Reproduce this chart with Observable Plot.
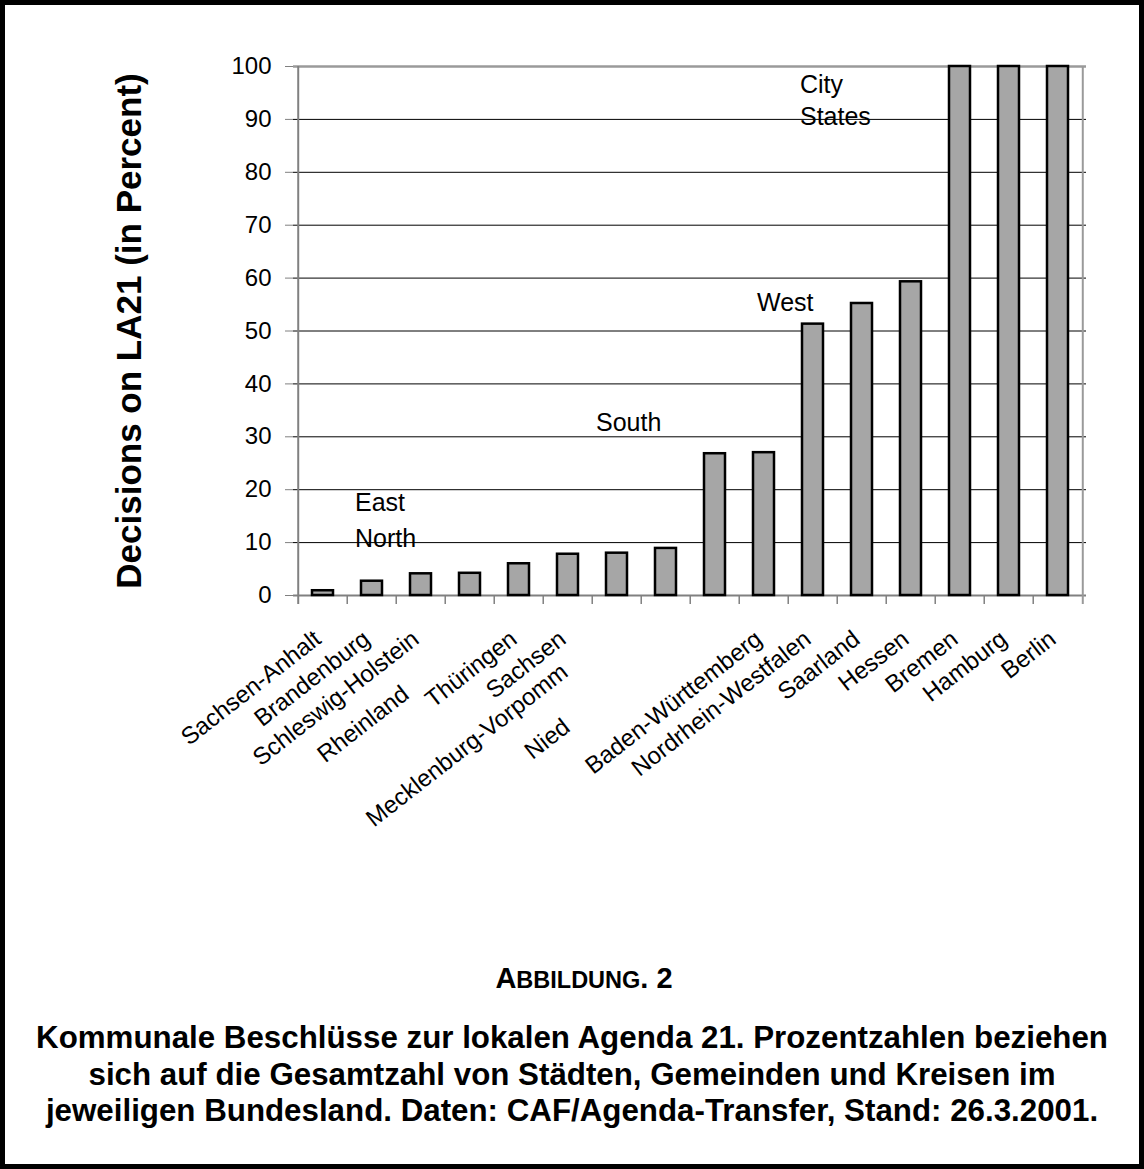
<!DOCTYPE html>
<html>
<head>
<meta charset="utf-8">
<script src="https://cdn.jsdelivr.net/npm/d3@7"></script>
<script src="https://cdn.jsdelivr.net/npm/@observablehq/plot@0.6"></script>
<style>
  html, body { margin: 0; padding: 0; background: #fff; }
  #wrap { position: relative; width: 1144px; height: 1169px; overflow: hidden; font-family: "Liberation Sans", Arial, sans-serif; color: #000; }
  #border { position: absolute; left: 0; top: 0; width: 1144px; height: 1169px; box-sizing: border-box; border: 5px solid #000; pointer-events: none; }
  #chart { position: absolute; left: 0; top: 0; }
  #fig { position: absolute; left: 24px; width: 1120px; top: 958px; text-align: center; font-weight: bold; line-height: 40px; }
  #fig .big { font-size: 29px; }
  #fig .sm { font-size: 23.5px; }
  #cap { position: absolute; left: 0; width: 1144px; top: 1020px; text-align: center; font-weight: bold; font-size: 31.3px; line-height: 36.5px; }
</style>
</head>
<body>
<div id="wrap">
  <div id="chart"></div>
  <div id="fig"><span class="big">A</span><span class="sm">BBILDUNG</span><span class="big">. 2</span></div>
  <div id="cap">Kommunale Beschlüsse zur lokalen Agenda 21. Prozentzahlen beziehen<br>sich auf die Gesamtzahl von Städten, Gemeinden und Kreisen im<br>jeweiligen Bundesland. Daten: CAF/Agenda-Transfer, Stand: 26.3.2001.</div>
  <div id="border"></div>
</div>
<script>
// ---- data ----
const categories = ["Sachsen-Anhalt", "Brandenburg", "Schleswig-Holstein", "Rheinland-Pfalz", "Thüringen", "Sachsen",
  "Mecklenburg-Vorpommern", "Niedersachsen", "Bayern", "Baden-Württemberg", "Nordrhein-Westfalen", "Saarland",
  "Hessen", "Bremen", "Hamburg", "Berlin"];
const values = [0.9, 2.7, 4.1, 4.2, 6.0, 7.8, 8.0, 8.9, 26.8, 27.0, 51.3, 55.2, 59.3, 100, 100, 100];
const tickLabels = ["Sachsen-Anhalt", "Brandenburg", "Schleswig-Holstein", "Rheinland", "Thüringen", "Sachsen",
  "Mecklenburg-Vorpomm", "Nied", "", "Baden-Württemberg", "Nordrhein-Westfalen", "Saarland",
  "Hessen", "Bremen", "Hamburg", "Berlin"];
const yTicks = [0, 10, 20, 30, 40, 50, 60, 70, 80, 90, 100];
const groupNames = ["East\nNorth", "South", "West", "City\nStates"];
const groupAt = ["Brandenburg", "Mecklenburg-Vorpommern", "Baden-Württemberg", "Nordrhein-Westfalen"];
const groupLevel = [20.9, 35.5, 58.2, 99.1];
const yTitle = "Decisions on LA21 (in Percent)";

// ---- layout ----
const W = 1144, H = 940, mL = 293, mR = 58, mT = 66, mB = 345;
const step = (W - mL - mR) / categories.length;
const labelOffset = {
  default: {dx: -11, dy: 33},
  "Rheinland-Pfalz": {dx: -70, dy: 88},
  "Mecklenburg-Vorpommern": {dx: -58, dy: 66},
  "Niedersachsen": {dx: -105, dy: 121}
};
const groupDx = [-17, -21, -7, -13];
const groupLineHeight = [1.45, 1.3, 1.3, 1.25];

const data = categories.map((c, i) => ({state: c, value: values[i], label: tickLabels[i]}));
const groups = groupNames.map((g, i) => ({text: g, at: groupAt[i], level: groupLevel[i]}));

const labelMarks = data.filter(d => d.label).map(d => {
  const o = labelOffset[d.state] || labelOffset.default;
  return Plot.text([d], {
    x: "state", frameAnchor: "bottom", text: "label", rotate: -38,
    textAnchor: "end", lineAnchor: "top", dx: o.dx, dy: o.dy, fontSize: 24, fill: "#000"
  });
});

const groupMarks = groups.map((g, i) => Plot.text([g], {
  x: "at", y: "level", text: "text", textAnchor: "start", lineAnchor: "top",
  dx: groupDx[i], fontSize: 25, lineHeight: groupLineHeight[i], fill: "#000"
}));

const chart = Plot.plot({
  width: W, height: H,
  marginLeft: mL, marginRight: mR, marginTop: mT, marginBottom: mB,
  style: {fontFamily: '"Liberation Sans", Arial, sans-serif', background: "transparent", overflow: "visible", color: "#000"},
  x: {domain: categories, paddingInner: 0.58, paddingOuter: 0.29, axis: null},
  y: {domain: [0, 100], axis: null},
  marks: [
    Plot.ruleY(yTicks.filter(t => t > 0 && t < 100), {stroke: "#000", strokeWidth: 1}),
    Plot.ruleY([100], {stroke: "#9a9a9a", strokeWidth: 2.5}),
    Plot.ruleY([0], {stroke: "#808080", strokeWidth: 2}),
    Plot.ruleX([categories[0]], {dx: -step / 2, stroke: "#808080", strokeWidth: 2, insetBottom: -9}),
    Plot.ruleX([categories[categories.length - 1]], {dx: step / 2, stroke: "#9a9a9a", strokeWidth: 2, insetBottom: -9}),
    Plot.ruleX(categories.slice(1), {y1: 0, y2: 0, dx: -step / 2, insetBottom: -9, stroke: "#808080", strokeWidth: 1.5}),
    Plot.axisY({ticks: yTicks, tickSize: 8, tickPadding: 14, fontSize: 24, stroke: "#808080", fill: "#000", label: null, tickFormat: d => String(d)}),
    ...groupMarks,
    Plot.barY(data, {x: "state", y: "value", fill: "#a6a6a6", stroke: "#000", strokeWidth: 2.5}),
    ...labelMarks,
    Plot.text([yTitle], {frameAnchor: "left", rotate: -90, dx: -164, textAnchor: "middle", lineAnchor: "middle", fontSize: 35, fontWeight: "bold", fill: "#000"})
  ]
});
document.getElementById("chart").appendChild(chart);
</script>
</body>
</html>
